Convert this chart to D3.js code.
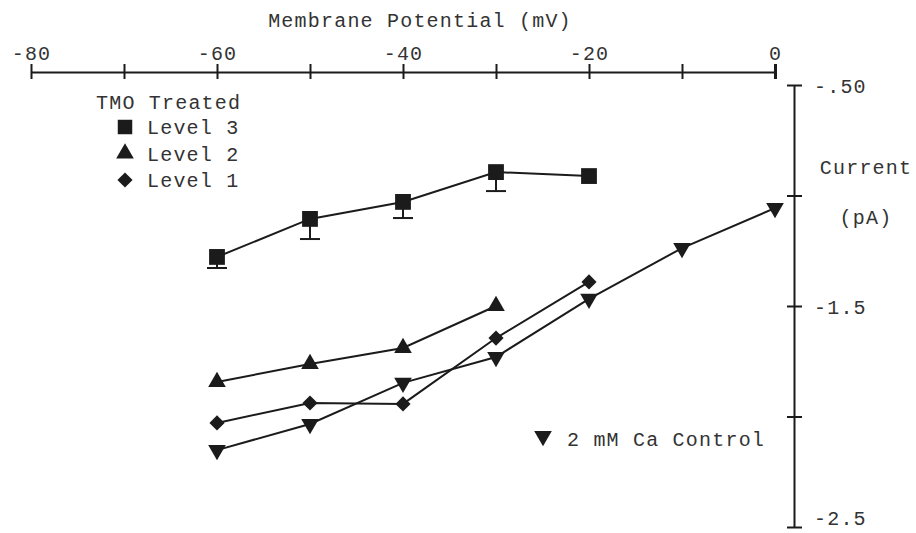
<!DOCTYPE html>
<html>
<head>
<meta charset="utf-8">
<script src="https://cdn.jsdelivr.net/npm/d3@7"></script>
<style>
  html, body { margin: 0; padding: 0; background: #fff; }
  svg { display: block; }
  text { font-family: "Liberation Mono", "DejaVu Sans Mono", monospace; fill: #333; }
</style>
</head>
<body>
<svg id="chart" width="916" height="533"></svg>
<script>
// ---- Data ----
const voltages = [-60, -50, -40, -30, -20, -10, 0];
const level3 = [-1.278, -1.106, -1.029, -0.894, -0.912];
const level3Lower = [-1.328, -1.197, -1.102, -0.980, null];
const level2 = [-1.844, -1.762, -1.690, -1.500];
const level1 = [-2.029, -1.939, -1.943, -1.645, -1.391];
const control = [-2.152, -2.034, -1.848, -1.731, -1.468, -1.238, -1.057];
const xTicks = [-80, -70, -60, -50, -40, -30, -20, -10, 0];
const xTickLabels = ["-80", "", "-60", "", "-40", "", "-20", "", "0"];
const yTicks = [-0.5, -1.0, -1.5, -2.0, -2.5];
const yTickLabels = ["-.50", "", "-1.5", "", "-2.5"];
const legendTitle = "TMO Treated";
const legendLabels = ["Level 3", "Level 2", "Level 1"];
const controlLabel = "2 mM Ca Control";
const xTitle = "Membrane Potential (mV)";
const yTitle = ["Current", "(pA)"];

// ---- Drawing ----
const svg = d3.select("#chart");
const ink = "#1b1b1b";
const x = d3.scaleLinear().domain([-80, 0]).range([31, 775]);
const y = d3.scaleLinear().domain([-0.5, -2.5]).range([85, 527]);
const axisY = 72, axisX = 794;
const fontSize = "20px", ls = "1.2px";

// X axis (top)
const xAxis = d3.axisTop(x).tickValues(xTicks).tickSize(0).tickFormat(() => "");
const gx = svg.append("g").attr("transform", `translate(0,${axisY})`).call(xAxis);
gx.select(".domain").attr("stroke", ink).attr("stroke-width", 2);
gx.selectAll(".tick line").remove();
gx.selectAll(".tick").append("line")
  .attr("y1", -8).attr("y2", 7).attr("stroke", ink)
  .attr("stroke-width", (d) => d === 0 ? 3 : 2);
gx.selectAll(".tick text").remove();
gx.selectAll(".tick").append("text")
  .attr("y", -12).attr("text-anchor", "middle")
  .style("font-size", fontSize).style("letter-spacing", ls)
  .text((d, i) => xTickLabels[i]);

svg.append("text").attr("x", 420).attr("y", 27).attr("text-anchor", "middle")
  .style("font-size", fontSize).style("letter-spacing", ls).text(xTitle);

// Y axis (right)
const yAxis = d3.axisRight(y).tickValues(yTicks).tickSize(0).tickFormat(() => "");
const gy = svg.append("g").attr("transform", `translate(${axisX},0)`).call(yAxis);
gy.select(".domain").attr("stroke", ink).attr("stroke-width", 2);
gy.selectAll(".tick line").remove();
gy.selectAll(".tick").append("line")
  .attr("x1", -7).attr("x2", 8).attr("stroke", ink).attr("stroke-width", 2);
gy.selectAll(".tick text").remove();
gy.selectAll(".tick").append("text")
  .attr("x", 20)
  .attr("y", (d) => d === -2.5 ? -10 : 0)
  .attr("dy", "0.35em")
  .style("font-size", fontSize).style("letter-spacing", ls)
  .text((d, i) => yTickLabels[i]);

svg.append("text").attr("x", 866).attr("y", 174).attr("text-anchor", "middle")
  .style("font-size", fontSize).style("letter-spacing", ls).text(yTitle[0]);
svg.append("text").attr("x", 866).attr("y", 224).attr("text-anchor", "middle")
  .style("font-size", fontSize).style("letter-spacing", ls).text(yTitle[1]);

// Series
const line = d3.line().x(d => x(d.v)).y(d => y(d.c));
function toPts(arr) { return arr.map((c, i) => ({ v: voltages[i], c: c })); }

const sq = d3.symbol().type(d3.symbolSquare).size(250)();
const triUp = d3.symbol().type(d3.symbolTriangle).size(135)();
const dia = d3.symbol().type(d3.symbolSquare).size(115)();

const series = [
  { data: level3, path: sq, rot: 0 },
  { data: level2, path: triUp, rot: 0 },
  { data: level1, path: dia, rot: 45 },
  { data: control, path: triUp, rot: 180 }
];

// Error bars for level 3
level3.forEach((c, i) => {
  const lo = level3Lower[i];
  if (lo == null) return;
  const xv = x(voltages[i]);
  svg.append("line").attr("x1", xv).attr("x2", xv).attr("y1", y(c)).attr("y2", y(lo))
    .attr("stroke", ink).attr("stroke-width", 2);
  svg.append("line").attr("x1", xv - 10).attr("x2", xv + 10).attr("y1", y(lo)).attr("y2", y(lo))
    .attr("stroke", ink).attr("stroke-width", 2);
});

series.forEach(s => {
  const pts = toPts(s.data);
  svg.append("path").datum(pts).attr("d", line)
    .attr("fill", "none").attr("stroke", ink).attr("stroke-width", 2);
  svg.selectAll(null).data(pts).enter().append("path")
    .attr("d", s.path)
    .attr("transform", d => `translate(${x(d.v)},${y(d.c)}) rotate(${s.rot})`)
    .attr("fill", ink);
});

// Legend
svg.append("text").attr("x", 96).attr("y", 109)
  .style("font-size", fontSize).style("letter-spacing", ls).text(legendTitle);
const legendSyms = [
  { path: d3.symbol().type(d3.symbolSquare).size(210)(), rot: 0 },
  { path: triUp, rot: 0 },
  { path: dia, rot: 45 }
];
legendLabels.forEach((lab, i) => {
  const ly = 127 + i * 26.5;
  svg.append("path").attr("d", legendSyms[i].path)
    .attr("transform", `translate(125,${ly}) rotate(${legendSyms[i].rot})`).attr("fill", ink);
  svg.append("text").attr("x", 147).attr("y", ly).attr("dy", "0.35em")
    .style("font-size", fontSize).style("letter-spacing", ls).text(lab);
});

svg.append("path").attr("d", triUp)
  .attr("transform", `translate(543,436) rotate(180)`).attr("fill", ink);
svg.append("text").attr("x", 567).attr("y", 439).attr("dy", "0.35em")
  .style("font-size", fontSize).style("letter-spacing", ls).text(controlLabel);
</script>
</body>
</html>
